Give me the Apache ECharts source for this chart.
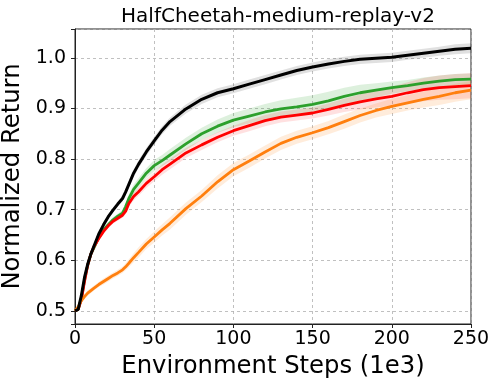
<!DOCTYPE html>
<html>
<head>
<meta charset="utf-8">
<script src="https://cdn.jsdelivr.net/npm/echarts@6/dist/echarts.min.js"></script>
<style>html,body{margin:0;padding:0;background:#fff}#c{width:498px;height:388px}</style>
</head>
<body>
<div id="c"></div>
<script>
const steps = [0,2,4,6,8,10,12,15,18,21,24,27,30,32,34,37,40,45,50,55,60,70,80,90,100,110,120,130,140,150,160,170,180,190,200,210,220,230,240,250];
const xTicks = [0,50,100,150,200,250];
const yTicks = [0.5,0.6,0.7,0.8,0.9,1.0];

const blackMean = [0.500,0.503,0.530,0.566,0.592,0.612,0.628,0.652,0.670,0.686,0.699,0.711,0.722,0.735,0.750,0.772,0.789,0.814,0.836,0.857,0.874,0.899,0.918,0.931,0.939,0.948,0.957,0.966,0.975,0.982,0.988,0.993,0.997,0.999,1.001,1.005,1.009,1.013,1.017,1.019];
const blackBand = [0.002,0.003,0.004,0.005,0.005,0.005,0.005,0.005,0.005,0.005,0.005,0.005,0.006,0.006,0.007,0.007,0.008,0.008,0.008,0.008,0.008,0.009,0.009,0.009,0.009,0.009,0.009,0.009,0.009,0.009,0.009,0.009,0.009,0.009,0.009,0.009,0.009,0.009,0.010,0.010];

const greenMean = [0.500,0.503,0.525,0.560,0.590,0.612,0.625,0.645,0.660,0.670,0.680,0.687,0.693,0.706,0.722,0.740,0.752,0.772,0.787,0.797,0.808,0.830,0.850,0.865,0.877,0.885,0.893,0.899,0.903,0.908,0.915,0.924,0.931,0.936,0.941,0.945,0.950,0.954,0.957,0.958];
const greenBand = [0.002,0.003,0.004,0.005,0.005,0.005,0.005,0.005,0.005,0.005,0.005,0.005,0.006,0.007,0.008,0.009,0.010,0.010,0.011,0.011,0.012,0.012,0.012,0.013,0.014,0.015,0.016,0.017,0.018,0.018,0.018,0.017,0.016,0.014,0.012,0.011,0.011,0.011,0.011,0.011];

const redMean = [0.500,0.503,0.522,0.558,0.590,0.612,0.627,0.643,0.657,0.668,0.677,0.683,0.689,0.697,0.712,0.726,0.735,0.752,0.765,0.779,0.790,0.812,0.828,0.843,0.856,0.866,0.876,0.883,0.887,0.891,0.898,0.906,0.913,0.919,0.924,0.931,0.937,0.941,0.943,0.945];
const redBand = [0.002,0.003,0.004,0.005,0.005,0.005,0.005,0.005,0.005,0.005,0.005,0.005,0.005,0.006,0.007,0.008,0.008,0.009,0.009,0.010,0.010,0.010,0.010,0.010,0.010,0.011,0.011,0.011,0.011,0.011,0.012,0.013,0.015,0.017,0.019,0.021,0.023,0.024,0.025,0.025];

const orangeMean = [0.500,0.508,0.520,0.528,0.535,0.540,0.545,0.552,0.558,0.564,0.570,0.575,0.581,0.587,0.594,0.605,0.615,0.632,0.646,0.660,0.673,0.702,0.727,0.755,0.779,0.796,0.814,0.831,0.843,0.852,0.862,0.874,0.886,0.896,0.904,0.911,0.918,0.924,0.931,0.936];
const orangeBand = [0.002,0.004,0.005,0.005,0.005,0.005,0.005,0.005,0.006,0.006,0.006,0.006,0.006,0.007,0.008,0.009,0.010,0.010,0.011,0.011,0.012,0.012,0.012,0.013,0.013,0.013,0.013,0.013,0.013,0.013,0.013,0.014,0.014,0.014,0.015,0.015,0.016,0.017,0.018,0.018];

const groups = [
  {name:'green', mean: greenMean, band: greenBand, color:'#2ca02c', fill:'rgba(44,160,44,0.16)', width:2.8},
  {name:'red', mean: redMean, band: redBand, color:'#ff0000', fill:'rgba(255,0,0,0.12)', width:2.8},
  {name:'orange', mean: orangeMean, band: orangeBand, color:'#ff7f0e', fill:'rgba(255,127,14,0.15)', width:2.8},
  {name:'black', mean: blackMean, band: blackBand, color:'#000000', fill:'rgba(0,0,0,0.12)', width:3}
];

const series = [];
groups.forEach(g => {
  const lo = steps.map((s,i)=>[s, g.mean[i]-g.band[i]]);
  const hi = steps.map((s,i)=>[s, g.mean[i]+g.band[i]]);
  series.push({
    type:'custom', silent:true, z:1, clip:true,
    data: steps.map((s,i)=>[s, g.mean[i]]),
    renderItem: function(params, api) {
      if (params.dataIndex !== 0) return;
      const pts = hi.map(p => api.coord(p)).concat(lo.slice().reverse().map(p => api.coord(p)));
      return {type:'polygon', shape:{points: pts}, style:{fill: g.fill, stroke:'none'}};
    }
  });
});
groups.forEach(g => {
  series.push({
    type:'line', showSymbol:false, silent:true,
    lineStyle:{color:g.color, width:g.width}, itemStyle:{color:g.color},
    data: steps.map((s,i)=>[s, g.mean[i]]), z:3
  });
});

const font = 'DejaVu Sans';
const chart = echarts.init(document.getElementById('c'), null, {renderer:'canvas'});
chart.setOption({
  animation:false,
  backgroundColor:'#ffffff',
  title:{text:'HalfCheetah-medium-replay-v2', left:273, textAlign:'center', top:2,
    textStyle:{fontFamily:font, fontSize:20, fontWeight:'normal', color:'#000'}},
  grid:{left:75, right:27, top:29, bottom:64, containLabel:false, outerBoundsMode:'none',
    show:true, borderColor:'#222', borderWidth:1, backgroundColor:'transparent'},
  xAxis:{type:'value', min:0, max:250, interval:50,
    name:'Environment Steps (1e3)', nameLocation:'middle', nameGap:31,
    nameTextStyle:{fontFamily:font, fontSize:24.3, color:'#000'},
    axisLine:{show:true, lineStyle:{color:'#222', width:1}},
    axisTick:{show:true, inside:false, length:4, lineStyle:{color:'#222'}},
    axisLabel:{fontFamily:font, fontSize:19, color:'#000', margin:6,
      formatter: v => xTicks.indexOf(v) >= 0 ? String(v) : ''},
    splitLine:{show:true, lineStyle:{color:'#b0b0b0', type:[3,3], width:0.8}}},
  yAxis:{type:'value', min:0.474, max:1.057,
    name:'Normalized Return', nameLocation:'middle', nameGap:41,
    nameTextStyle:{fontFamily:font, fontSize:24.3, color:'#000'},
    axisLine:{show:true, lineStyle:{color:'#222', width:1}},
    axisTick:{show:true, inside:false, length:4, lineStyle:{color:'#222'}},
    axisLabel:{fontFamily:font, fontSize:19, color:'#000', margin:9, showMinLabel:true, showMaxLabel:true,
      formatter: v => { const t = yTicks.find(y => Math.abs(y - v) < 1e-6); return t === undefined ? '' : t.toFixed(1); }},
    splitLine:{show:true, lineStyle:{color:'#b0b0b0', type:[3,3], width:0.8}}},
  series: series
});
</script>
</body>
</html>
